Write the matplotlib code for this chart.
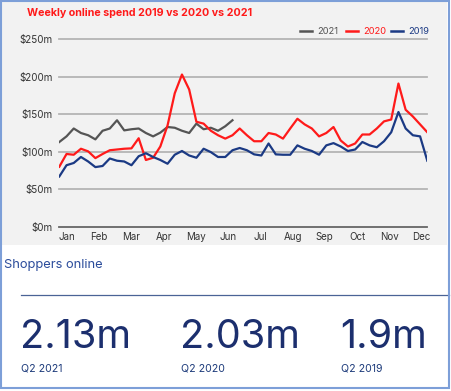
import matplotlib
matplotlib.use("Agg")
import matplotlib.pyplot as plt
from matplotlib.patches import Rectangle
from matplotlib.lines import Line2D
import numpy as np

plt.rcParams['font.family'] = ['Inter', 'DejaVu Sans']

# ---- data (weekly online spend, $m) ----
spend_2019 = [67, 82, 85, 93, 87, 79.5, 81, 91, 88, 87, 82, 94, 98, 93, 89, 84, 96, 101,
              95, 92, 104, 99.5, 93, 93, 102, 105, 102, 96.5, 95, 111, 96.5, 96, 96, 108.5,
              104, 101, 96, 108.5, 111.5, 107, 101, 103, 113, 108.5, 106, 114, 126, 153,
              131, 122, 120.5, 88]
spend_2020 = [80, 97, 96, 104, 100.5, 91.5, 97, 102, 103, 104, 104.5, 118, 89, 92, 107, 135,
              178, 203, 183, 140, 137.5, 128, 122, 117.5, 122, 131, 122, 114, 114, 125, 123,
              117.5, 131, 144, 136.5, 131, 120.5, 125, 133, 115, 107, 111, 123, 123, 131,
              140.5, 143, 191, 156, 147, 136.5, 126]
spend_2021 = [113, 120.5, 131, 125, 122, 116.5, 128, 131, 142, 128.5, 130, 131, 125, 120.5,
              125.5, 133, 132, 128, 125, 137.5, 130, 132, 128, 134, 142]
months = ['Jan', 'Feb', 'Mar', 'Apr', 'May', 'Jun', 'Jul', 'Aug', 'Sep', 'Oct', 'Nov', 'Dec']
y_ticks = [0, 50, 100, 150, 200, 250]
y_labels = ['$0m', '$50m', '$100m', '$150m', '$200m', '$250m']
series_names = ['2021', '2020', '2019']
kpi_values = ['2.13m', '2.03m', '1.9m']
kpi_labels = ['Q2 2021', 'Q2 2020', 'Q2 2019']

W, H = 452, 391
fig = plt.figure(figsize=(W / 100, H / 100), dpi=100)
fig.patch.set_facecolor('white')

def fx(x):
    return x / W

def fy(y):
    return 1 - y / H

# gray chart panel
fig.add_artist(Rectangle((fx(1.5), fy(245)), fx(447) - fx(1.5), fy(1) - fy(245),
                         transform=fig.transFigure, facecolor='#f2f2f2', edgecolor='none', zorder=0))
# outer border
fig.add_artist(Rectangle((fx(1.5), fy(387.5)), fx(449) - fx(1.5), fy(1) - fy(387.5),
                         transform=fig.transFigure, facecolor='none', edgecolor='#7d9fd8',
                         linewidth=1.5, zorder=10))

RED = '#ff1a1a'
BLUE = '#1b3a84'
GRAY = '#555555'

left, right = 59.3, 427.3
top, bottom = 39.3, 226.7
ax = fig.add_axes([fx(left), fy(bottom), fx(right) - fx(left), fy(top) - fy(bottom)])
ax.set_facecolor('none')
ax.set_xlim(0, 51)
ax.set_ylim(0, 250)
for s in ax.spines.values():
    s.set_visible(False)

for v in y_ticks:
    col = '#666666' if v == 0 else '#b5b5b5'
    ax.axhline(v, color=col, lw=1.3, zorder=1, clip_on=False)

ax.plot(np.arange(len(spend_2021)), spend_2021, color=GRAY, lw=1.6, zorder=3)
ax.plot(np.arange(len(spend_2020)), spend_2020, color=RED, lw=1.6, zorder=4)
ax.plot(np.arange(len(spend_2019)), spend_2019, color=BLUE, lw=1.6, zorder=5)

ax.set_yticks(y_ticks)
ax.set_yticklabels(y_labels, fontsize=7.1, color='#333333')
month_pos = 1.03 + np.arange(12) * 4.47
ax.set_xticks(month_pos)
ax.set_xticklabels(months, fontsize=7.0, color='#333333')
ax.tick_params(axis='both', length=0, pad=4)
ax.tick_params(axis='y', pad=5)

# title
fig.text(fx(27), fy(13), 'Weekly online spend 2019 vs 2020 vs 2021', color=RED,
         fontsize=7.7, fontweight='bold', va='center', ha='left')

# legend
leg_items = [('2021', GRAY, 300), ('2020', RED, 346), ('2019', BLUE, 391)]
for name, col, x0 in leg_items:
    fig.add_artist(Line2D([fx(x0), fx(x0 + 12)], [fy(31), fy(31)], color=col, lw=1.8,
                          transform=fig.transFigure))
    fig.text(fx(x0 + 17), fy(31), name, color=col, fontsize=6.7, va='center', ha='left')

# bottom panel
fig.text(fx(4), fy(265), 'Shoppers online', color='#2b4c9b', fontsize=9.3, va='center', ha='left')
fig.add_artist(Line2D([fx(21), fx(449)], [fy(295), fy(295)], color='#4a6396', lw=0.9,
                      transform=fig.transFigure))
for i, (val, lab) in enumerate(zip(kpi_values, kpi_labels)):
    x0 = 21 + 160 * i
    fig.text(fx(x0 - 1), fy(348), val, color='#1c2f6e', fontsize=28.5, va='baseline', ha='left')
    fig.text(fx(x0), fy(369), lab, color='#1c3a7a', fontsize=7.6, va='center', ha='left')

fig.savefig('out.png', dpi=100, facecolor='white')
